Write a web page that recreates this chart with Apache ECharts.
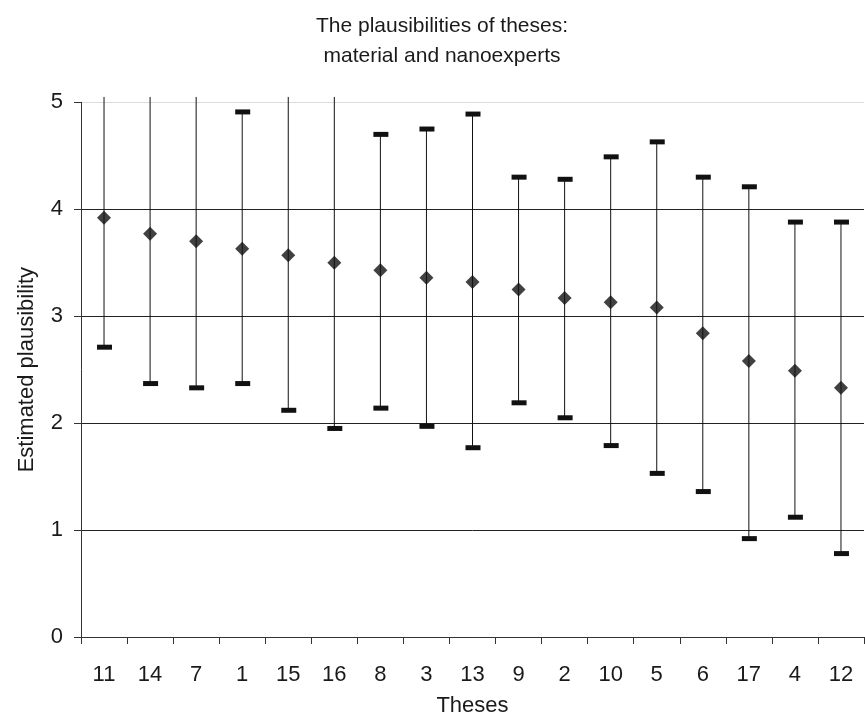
<!DOCTYPE html>
<html>
<head>
<meta charset="utf-8">
<script src="https://cdn.jsdelivr.net/npm/echarts@6/dist/echarts.min.js"></script>
<style>
html,body{margin:0;padding:0;background:#fff;}
#chart{width:865px;height:722px;}
</style>
</head>
<body>
<div id="chart"></div>
<script>
var categories = ['11','14','7','1','15','16','8','3','13','9','2','10','5','6','17','4','12'];
var meanValues = [3.92,3.77,3.70,3.63,3.57,3.50,3.43,3.36,3.32,3.25,3.17,3.13,3.08,2.84,2.58,2.49,2.33];
var highValues = [5.05,5.05,5.05,4.91,5.05,5.05,4.70,4.75,4.89,4.30,4.28,4.49,4.63,4.30,4.21,3.88,3.88];
var lowValues  = [2.71,2.37,2.33,2.37,2.12,1.95,2.14,1.97,1.77,2.19,2.05,1.79,1.53,1.36,0.92,1.12,0.78];
var yTicks = [0,1,2,3,4,5];

var FONT = '"Liberation Sans", Arial, sans-serif';
var chart = echarts.init(document.getElementById('chart'), null, {renderer:'canvas'});

var errData = categories.map(function(c,i){ return [i, lowValues[i], highValues[i]]; });

var option = {
  animation:false,
  backgroundColor:'#ffffff',
  title:{
    text:'The plausibilities of theses:\nmaterial and nanoexperts',
    left:437, top:6, textAlign:'center',
    textStyle:{fontFamily:FONT,fontSize:21,fontWeight:'normal',color:'#1a1a1a',lineHeight:30}
  },
  grid:{left:81,right:1,top:102.3,bottom:84.3,containLabel:false},
  xAxis:{
    type:'category', data:categories, boundaryGap:true,
    name:'Theses', nameLocation:'middle', nameGap:58,
    nameTextStyle:{fontFamily:FONT,fontSize:22,color:'#1a1a1a'},
    axisLine:{show:true,lineStyle:{color:'#333',width:1}},
    axisTick:{show:true,interval:0,length:7,lineStyle:{color:'#333'}},
    axisLabel:{interval:0,margin:27,fontFamily:FONT,fontSize:22,color:'#1a1a1a'},
    splitLine:{show:false}
  },
  yAxis:{
    type:'value', min:yTicks[0], max:yTicks[yTicks.length-1], interval:1,
    name:'Estimated plausibility', nameLocation:'middle', nameGap:43,
    nameTextStyle:{fontFamily:FONT,fontSize:22,color:'#1a1a1a'},
    axisLine:{show:true,lineStyle:{color:'#333',width:1}},
    axisTick:{show:true,length:7,lineStyle:{color:'#333'}},
    axisLabel:{margin:18,fontFamily:FONT,fontSize:22,color:'#1a1a1a'},
    splitLine:{show:true,lineStyle:{color:['#222','#222','#222','#222','#222','#dcdcdc'],width:1}}
  },
  series:[
    {
      type:'custom',
      clip:false,
      data:errData,
      z:2,
      renderItem:function(params, api){
        var x = api.value(0);
        var lo = api.coord([x, api.value(1)]);
        var hiVal = api.value(2);
        var hi = api.coord([x, hiVal]);
        var children = [{
          type:'line',
          shape:{x1:lo[0],y1:lo[1],x2:hi[0],y2:hi[1]},
          style:{stroke:'#111',lineWidth:1}
        },{
          type:'rect',
          shape:{x:lo[0]-7,y:lo[1]-2.5,width:15,height:5},
          style:{fill:'#111'}
        }];
        if (hiVal < 5) {
          children.push({
            type:'rect',
            shape:{x:hi[0]-7,y:hi[1]-2.5,width:15,height:5},
            style:{fill:'#111'}
          });
        }
        return {type:'group',children:children};
      }
    },
    {
      type:'scatter',
      data:meanValues,
      symbol:'diamond',
      symbolSize:[14,14],
      itemStyle:{color:'#111'},
      z:3
    }
  ]
};
chart.setOption(option);
</script>
</body>
</html>
